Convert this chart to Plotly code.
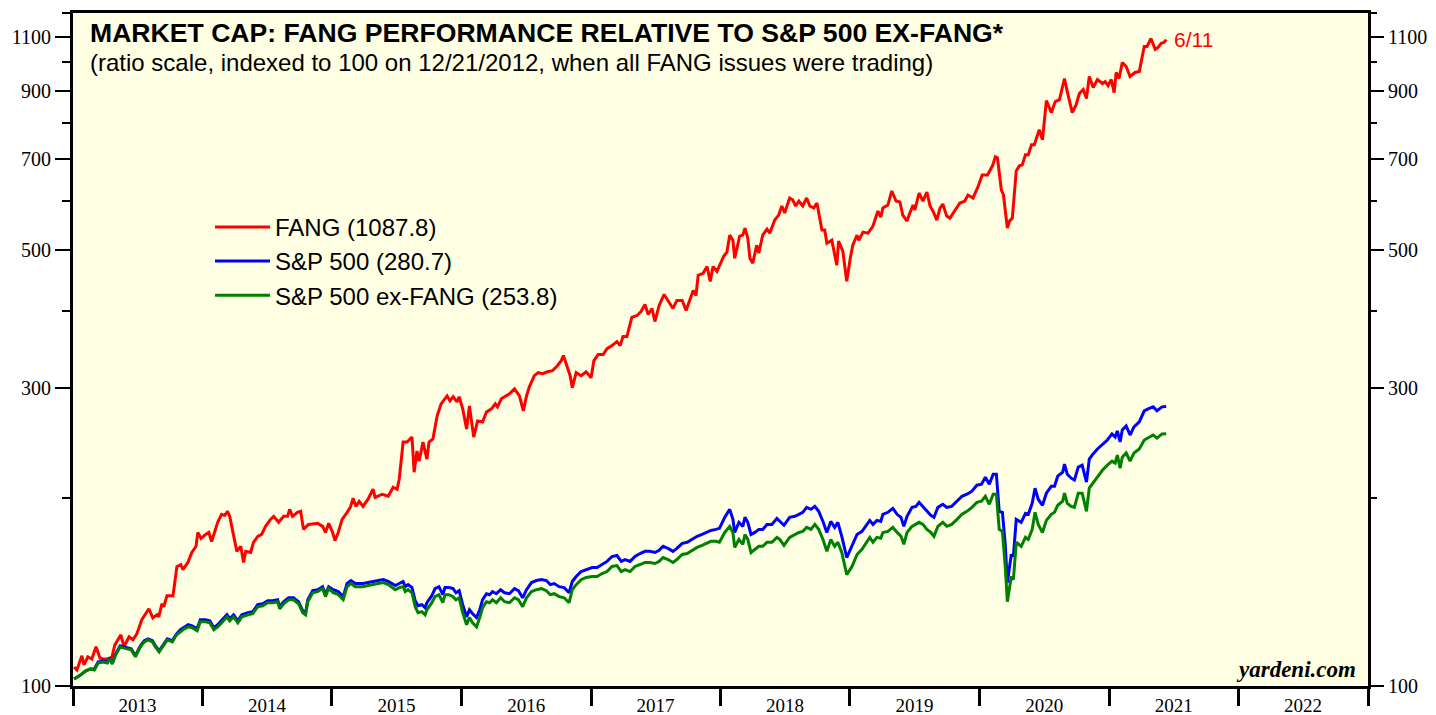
import math
import plotly.graph_objects as go

# ---------------- data ----------------
red_dates = [
"2013-01-04","2013-01-12","2013-01-26","2013-02-01","2013-02-12","2013-02-23","2013-03-07","2013-03-18","2013-03-26","2013-04-10",
"2013-04-21","2013-04-29","2013-05-16","2013-05-25","2013-06-08","2013-06-19","2013-06-30","2013-07-14","2013-08-03","2013-08-14",
"2013-08-26","2013-08-31","2013-09-09","2013-09-14","2013-09-23","2013-10-10","2013-10-21","2013-11-01","2013-11-07","2013-11-21",
"2013-12-02","2013-12-14","2013-12-19","2013-12-28","2014-01-10","2014-01-19","2014-01-27","2014-02-13","2014-02-24","2014-03-05",
"2014-03-13","2014-03-19","2014-04-08","2014-04-19","2014-04-27","2014-05-03","2014-05-17","2014-05-25","2014-06-06","2014-06-17",
"2014-06-28","2014-07-12","2014-07-21","2014-08-04","2014-08-18","2014-08-29","2014-09-04","2014-09-12","2014-09-26","2014-10-05",
"2014-10-13","2014-10-27","2014-11-22","2014-12-06","2014-12-14","2014-12-23","2015-01-02","2015-01-10","2015-01-19","2015-01-30",
"2015-02-13","2015-02-22","2015-03-02","2015-03-10","2015-03-19","2015-03-30","2015-04-13","2015-04-27","2015-05-03","2015-05-23",
"2015-06-09","2015-06-23","2015-07-04","2015-07-10","2015-07-21","2015-08-01","2015-08-15","2015-08-21","2015-08-29","2015-09-04",
"2015-09-15","2015-09-26","2015-10-02","2015-10-13","2015-10-25","2015-11-05","2015-11-22","2015-11-30","2015-12-09","2015-12-20",
"2015-12-26","2016-01-05","2016-01-16","2016-01-24","2016-02-05","2016-02-16","2016-03-01","2016-03-12","2016-03-26","2016-04-06",
"2016-04-12","2016-04-23","2016-05-02","2016-05-16","2016-05-30","2016-06-13","2016-06-24","2016-07-03","2016-07-11","2016-07-25",
"2016-08-05","2016-08-17","2016-08-31","2016-09-14","2016-09-28","2016-10-09","2016-10-15","2016-10-23","2016-11-03","2016-11-09",
"2016-11-20","2016-12-04","2016-12-18","2017-01-01","2017-01-09","2017-01-21","2017-02-04","2017-02-15","2017-03-01","2017-03-15",
"2017-03-24","2017-04-01","2017-04-12","2017-04-26","2017-05-11","2017-05-22","2017-06-02","2017-06-11","2017-06-22","2017-06-30",
"2017-07-12","2017-07-26","2017-08-06","2017-08-20","2017-08-31","2017-09-15","2017-09-26","2017-10-04","2017-10-16","2017-10-24",
"2017-10-30","2017-11-13","2017-11-24","2017-12-03","2017-12-11","2017-12-22","2018-01-10","2018-01-19","2018-01-27","2018-02-05",
"2018-02-10","2018-02-24","2018-03-05","2018-03-11","2018-03-19","2018-03-25","2018-04-02","2018-04-13","2018-04-19","2018-04-30",
"2018-05-12","2018-05-20","2018-06-03","2018-06-14","2018-06-23","2018-07-01","2018-07-15","2018-07-24","2018-08-01","2018-08-10",
"2018-08-21","2018-09-01","2018-09-10","2018-09-21","2018-09-30","2018-10-14","2018-10-22","2018-10-28","2018-11-11","2018-11-25",
"2018-11-30","2018-12-12","2018-12-23","2019-01-02","2019-01-09","2019-01-21","2019-01-26","2019-02-07","2019-02-21","2019-03-07",
"2019-03-21","2019-03-29","2019-04-04","2019-04-18","2019-04-29","2019-05-11","2019-05-22","2019-05-30","2019-06-11","2019-06-19",
"2019-06-28","2019-07-03","2019-07-15","2019-07-26","2019-08-06","2019-08-15","2019-08-23","2019-09-03","2019-09-12","2019-09-20",
"2019-10-01","2019-10-10","2019-10-24","2019-11-07","2019-11-21","2019-11-30","2019-12-14","2019-12-28","2020-01-09","2020-01-24",
"2020-02-07","2020-02-15","2020-02-21","2020-03-03","2020-03-09","2020-03-14","2020-03-20","2020-03-26","2020-04-03","2020-04-14",
"2020-04-23","2020-05-01","2020-05-10","2020-05-18","2020-05-27","2020-06-04","2020-06-13","2020-06-18","2020-06-27","2020-07-08",
"2020-07-22","2020-08-02","2020-08-14","2020-08-28","2020-09-05","2020-09-19","2020-09-30","2020-10-09","2020-10-20","2020-10-29",
"2020-11-06","2020-11-17","2020-11-29","2020-12-13","2020-12-21","2020-12-29","2021-01-07","2021-01-15","2021-01-21","2021-01-29",
"2021-02-07","2021-02-18","2021-03-01","2021-03-15","2021-03-27","2021-04-10","2021-04-18","2021-04-29","2021-05-11","2021-05-19",
"2021-05-28","2021-06-05","2021-06-11"]
fang = [
107.3,106.1,111.8,108.1,111.4,110.5,115.6,110.9,110.5,110.5,
111.4,116.4,120.8,115.6,119.9,118.6,121.2,127.7,133.0,128.6,
130.1,129.1,135.5,134.0,139.6,139.6,155.4,156.6,153.7,157.8,
163.7,167.5,176.3,172.4,175.0,176.3,170.5,183.0,188.5,187.8,
190.6,187.1,164.4,167.5,157.8,164.4,163.7,169.9,173.7,175.0,
180.3,185.0,187.1,183.0,187.1,187.1,192.0,187.1,189.9,190.6,
178.3,181.6,182.3,180.3,176.3,182.3,177.0,171.1,176.3,185.0,
189.9,193.4,200.0,194.1,197.8,194.1,199.3,206.8,200.7,203.0,
201.5,208.3,206.8,214.6,246.2,246.2,250.8,220.2,238.1,229.4,
246.2,231.1,246.2,248.9,271.1,283.4,291.9,286.6,291.0,285.5,
291.0,278.2,258.3,281.3,250.7,266.1,265.1,275.1,278.2,283.4,
280.3,288.7,290.9,294.1,299.6,291.9,276.2,291.9,301.8,314.5,
318.0,316.8,319.1,320.3,326.3,332.4,338.7,328.7,314.5,300.7,
318.0,314.5,319.1,312.1,332.4,340.0,340.0,347.5,351.4,356.7,
351.4,363.4,363.4,389.9,392.8,398.7,409.1,394.2,403.1,384.1,
407.6,424.5,415.2,403.1,415.2,415.2,400.1,413.6,430.9,422.9,
455.5,458.9,470.7,445.5,470.7,462.3,488.8,496.1,528.4,518.6,
485.2,526.5,528.4,542.3,522.5,485.2,476.3,509.1,494.3,528.4,
540.3,532.3,558.6,569.0,588.4,573.3,606.1,601.6,588.4,599.3,
588.4,606.1,588.4,584.0,594.9,538.3,538.3,512.9,518.6,472.8,
516.7,498.0,445.5,485.2,509.1,528.4,518.6,534.3,532.3,546.4,
577.6,564.8,584.0,590.5,622.0,599.3,597.1,569.0,556.5,573.3,
590.5,579.7,617.4,599.3,619.7,588.4,577.6,558.6,584.0,592.7,
566.9,562.7,579.7,594.9,599.3,612.8,606.1,631.3,660.0,660.0,
682.5,705.6,703.0,624.3,612.8,584.0,542.3,556.5,562.7,669.9,
682.5,685.0,710.9,710.9,737.7,737.7,765.5,779.9,751.5,868.4,
830.6,865.2,871.6,942.2,897.8,830.6,855.6,891.2,904.5,874.9,
949.2,911.2,938.7,924.9,931.7,918.0,938.7,894.5,963.4,942.2,
999.7,985.0,949.2,963.4,967.0,1060.8,1060.8,1092.0,1049.0,1056.9,
1072.7,1076.7,1087.8]

sp_dates = [
"2013-01-04","2013-01-22","2013-02-05","2013-02-19","2013-03-02","2013-03-13","2013-03-27","2013-04-08","2013-04-13","2013-04-22",
"2013-04-30","2013-05-14","2013-05-23","2013-06-03","2013-06-14","2013-06-26","2013-07-10","2013-07-21","2013-08-01","2013-08-13",
"2013-08-21","2013-09-01","2013-09-13","2013-09-24","2013-10-08","2013-10-20","2013-10-31","2013-11-11","2013-11-22","2013-12-03",
"2013-12-17","2013-12-26","2014-01-10","2014-01-22","2014-02-02","2014-02-13","2014-02-27","2014-03-11","2014-03-19","2014-03-30",
"2014-04-11","2014-04-22","2014-05-09","2014-05-23","2014-06-06","2014-06-20","2014-07-04","2014-07-18","2014-08-01","2014-08-07",
"2014-08-18","2014-09-01","2014-09-15","2014-09-29","2014-10-11","2014-10-19","2014-10-25","2014-11-08","2014-11-22","2014-12-06",
"2014-12-14","2014-12-23","2015-01-05","2015-01-19","2015-02-02","2015-02-13","2015-02-24","2015-03-08","2015-03-19","2015-03-30",
"2015-04-13","2015-04-27","2015-05-12","2015-05-26","2015-06-09","2015-06-29","2015-07-10","2015-07-21","2015-07-27","2015-08-04",
"2015-08-15","2015-08-24","2015-09-01","2015-09-12","2015-09-21","2015-09-26","2015-10-10","2015-10-19","2015-10-30","2015-11-10",
"2015-11-16","2015-11-27","2015-12-09","2015-12-17","2015-12-26","2016-01-05","2016-01-16","2016-01-24","2016-02-02","2016-02-13",
"2016-02-22","2016-03-01","2016-03-12","2016-03-21","2016-03-29","2016-04-09","2016-04-21","2016-05-02","2016-05-16","2016-05-30",
"2016-06-10","2016-06-22","2016-07-03","2016-07-17","2016-07-31","2016-08-14","2016-08-28","2016-09-08","2016-09-19","2016-10-03",
"2016-10-17","2016-10-31","2016-11-09","2016-11-20","2016-12-04","2016-12-18","2017-01-04","2017-01-18","2017-02-01","2017-02-15",
"2017-03-01","2017-03-15","2017-03-27","2017-04-07","2017-04-21","2017-05-05","2017-05-19","2017-06-02","2017-06-16","2017-06-30",
"2017-07-12","2017-07-23","2017-08-06","2017-08-20","2017-08-31","2017-09-15","2017-09-29","2017-10-13","2017-10-27","2017-11-10",
"2017-11-24","2017-12-05","2017-12-19","2017-12-29","2018-01-13","2018-01-27","2018-02-05","2018-02-10","2018-02-22","2018-03-05",
"2018-03-11","2018-03-19","2018-03-28","2018-04-08","2018-04-19","2018-04-30","2018-05-12","2018-05-26","2018-06-09","2018-06-17",
"2018-06-29","2018-07-15","2018-07-30","2018-08-10","2018-08-21","2018-09-01","2018-09-13","2018-09-24","2018-10-05","2018-10-17",
"2018-10-28","2018-11-08","2018-11-19","2018-11-28","2018-12-09","2018-12-23","2019-01-07","2019-01-21","2019-02-04","2019-02-18",
"2019-02-26","2019-03-07","2019-03-18","2019-03-29","2019-04-04","2019-04-18","2019-05-02","2019-05-14","2019-05-25","2019-06-02",
"2019-06-11","2019-06-25","2019-07-06","2019-07-15","2019-07-26","2019-08-06","2019-08-17","2019-08-26","2019-09-06","2019-09-20",
"2019-10-01","2019-10-15","2019-10-30","2019-11-13","2019-11-27","2019-12-11","2019-12-25","2020-01-07","2020-01-18","2020-01-29",
"2020-02-09","2020-02-18","2020-02-26","2020-03-06","2020-03-14","2020-03-20","2020-03-31","2020-04-06","2020-04-14","2020-04-28",
"2020-05-10","2020-05-18","2020-05-29","2020-06-06","2020-06-15","2020-06-27","2020-07-08","2020-07-22","2020-07-31","2020-08-09",
"2020-08-23","2020-08-28","2020-09-05","2020-09-16","2020-09-25","2020-10-06","2020-10-17","2020-10-29","2020-11-06","2020-11-14",
"2020-11-29","2020-12-13","2020-12-27","2021-01-09","2021-01-18","2021-01-24","2021-02-01","2021-02-07","2021-02-18","2021-03-01",
"2021-03-12","2021-03-27","2021-04-10","2021-04-21","2021-05-05","2021-05-16","2021-05-30","2021-06-11"]
sp500 = [
102.6,104.1,105.7,106.5,106.5,109.3,109.7,109.3,110.9,108.9,
112.2,116.0,115.6,115.1,114.7,111.8,116.0,118.2,119.0,118.2,
116.0,113.9,116.8,119.0,118.2,121.2,123.1,124.4,125.4,124.9,
123.5,127.7,127.7,127.2,124.0,125.4,127.7,130.1,128.2,130.1,
127.2,130.1,131.1,131.6,135.0,135.5,137.0,137.0,137.5,134.0,
136.5,138.5,138.5,136.5,132.0,131.1,137.5,142.2,142.7,144.3,
140.1,144.3,142.7,141.7,139.1,146.0,147.6,146.0,146.0,146.0,
146.5,147.1,147.6,148.1,147.1,144.9,146.0,147.1,144.3,145.4,
143.8,137.0,134.5,135.0,133.5,136.0,139.6,143.3,144.3,140.1,
143.8,143.8,143.3,141.1,142.2,135.0,129.1,132.5,130.6,128.7,
132.5,137.5,140.6,140.1,141.7,140.6,142.7,141.1,140.6,143.3,
142.2,138.5,142.7,146.5,147.6,148.1,147.6,145.4,146.0,144.3,
143.8,141.1,147.1,149.8,152.6,153.7,154.9,154.9,156.6,158.4,
161.3,161.9,158.4,159.5,158.4,161.3,163.1,164.4,164.4,163.7,
165.0,167.5,166.2,164.4,166.2,169.3,170.0,171.8,173.8,175.0,
176.3,177.6,178.3,179.0,186.4,192.0,185.0,176.3,183.0,180.3,
186.4,183.0,175.0,176.3,178.3,178.3,181.6,181.6,185.7,183.6,
181.0,186.4,187.1,188.5,189.9,193.4,192.0,194.1,190.6,183.6,
176.3,183.6,179.6,183.0,173.8,160.7,167.5,175.0,177.0,181.6,
184.3,181.6,184.3,183.6,188.5,189.9,192.7,188.5,186.4,180.3,
187.1,193.4,194.1,197.0,194.1,190.6,187.8,186.4,193.4,195.6,
193.4,194.1,197.8,201.5,203.0,205.3,209.9,210.7,216.2,210.7,
218.6,218.6,190.6,189.9,168.7,146.5,162.5,161.3,185.0,183.0,
189.2,188.5,196.3,207.6,199.3,194.9,203.8,209.1,209.1,217.0,
220.2,226.9,218.6,215.4,213.9,224.4,226.0,212.3,231.1,234.6,
239.9,243.5,248.0,253.6,250.7,256.4,246.2,257.3,261.2,252.6,
260.3,265.1,276.2,278.2,280.3,276.2,280.3,280.7]
sp500_ex_fang = [
102.6,104.1,105.7,106.5,106.1,108.9,109.3,108.9,110.5,108.5,
111.8,115.6,115.1,114.7,114.3,111.4,115.6,117.7,118.6,117.7,
115.6,113.4,116.4,118.6,117.7,120.8,122.1,123.5,124.4,124.0,
122.6,126.8,126.8,126.3,123.1,124.4,126.8,129.1,127.2,129.1,
126.3,129.1,130.1,130.6,134.0,134.5,136.0,136.0,136.5,133.0,
135.5,137.5,137.5,135.5,131.1,130.1,136.5,141.1,141.7,143.3,
139.1,143.3,141.1,140.1,137.5,144.3,146.0,144.3,144.3,144.3,
144.9,145.4,146.0,146.5,145.4,142.7,143.8,144.3,141.7,142.7,
141.1,134.0,131.1,131.6,130.1,132.5,136.0,139.1,140.1,136.0,
140.1,140.1,139.1,137.5,138.5,131.1,125.4,128.7,126.3,124.4,
128.7,133.5,136.5,136.0,137.5,136.0,138.5,136.5,136.0,138.5,
137.5,134.0,138.5,141.7,142.7,143.3,142.2,140.1,140.6,139.1,
138.5,136.0,142.7,145.4,148.1,149.3,149.8,149.8,151.5,152.6,
155.5,156.0,152.6,153.7,152.6,155.5,156.6,157.8,157.8,157.2,
158.4,160.7,159.5,157.8,159.5,162.5,163.1,165.0,166.8,168.1,
169.3,170.6,170.6,170.0,176.3,180.3,176.3,166.8,171.8,168.7,
175.0,171.8,163.7,165.6,167.5,167.5,170.0,170.0,173.1,171.8,
168.1,173.1,175.0,176.3,177.0,179.6,178.3,181.6,178.3,171.8,
164.4,171.8,167.5,170.0,163.7,150.9,155.5,162.5,165.6,170.0,
173.1,170.0,173.1,172.5,176.3,177.0,179.6,176.3,173.8,168.7,
176.3,180.3,181.6,183.0,181.6,178.3,176.3,173.8,180.3,183.0,
180.3,181.6,185.0,188.5,190.6,193.4,197.0,197.8,201.5,195.6,
203.0,203.0,178.3,177.0,155.5,136.5,149.8,148.1,170.0,167.5,
173.1,171.8,178.3,189.9,181.6,176.3,184.3,188.5,189.9,194.9,
197.8,203.8,196.3,194.1,193.4,203.8,203.8,190.6,207.6,210.7,
217.0,221.8,226.0,229.4,227.7,234.6,223.5,232.8,236.4,229.4,
236.4,239.9,248.0,249.8,252.6,249.8,253.6,253.8]

year_labels = ["2013","2014","2015","2016","2017","2018","2019","2020","2021","2022"]
y_labeled = [100, 300, 500, 700, 900, 1100]
y_minor = [200, 400, 600, 800, 1000, 1200]

# ---------------- figure ----------------
SERIF = "Liberation Serif, Times New Roman, serif"
SANS = "Liberation Sans, Arial, sans-serif"

fig = go.Figure()
fig.add_trace(go.Scatter(x=red_dates, y=fang, mode="lines", name=f"FANG ({fang[-1]:.1f})",
                         line=dict(color="#FF0000", width=3), legendgroup="a"))
fig.add_trace(go.Scatter(x=sp_dates, y=sp500, mode="lines", name=f"S&P 500 ({sp500[-1]:.1f})",
                         line=dict(color="#0000FF", width=3), legendgroup="b"))
# drawn on the right-hand axis (identical range) so that axis is rendered
fig.add_trace(go.Scatter(x=sp_dates, y=sp500_ex_fang, mode="lines", name=f"S&P 500 ex-FANG ({sp500_ex_fang[-1]:.1f})",
                         line=dict(color="#008000", width=3), legendgroup="c", yaxis="y2"))

yr_bounds = [f"{int(y)}-01-01" for y in year_labels] + ["2023-01-01"]
yr_mids = [f"{int(y)}-07-02" for y in year_labels]
yrange = [math.log10(100), math.log10(1200)]

common_y = dict(
    type="log", range=yrange, autorange=False, tickmode="array", tickvals=y_labeled,
    ticktext=[str(v) for v in y_labeled], ticks="outside", ticklen=15, tickwidth=1.5,
    tickcolor="black", showgrid=False, zeroline=False, automargin=False,
    tickfont=dict(family=SERIF, size=20, color="black"),
    minor=dict(tickmode="array", tickvals=y_minor, ticks="outside", ticklen=8,
               tickwidth=1.5, tickcolor="black", showgrid=False),
)

fig.update_layout(
    width=1436, height=715,
    margin=dict(l=73, r=68, t=13, b=29, autoexpand=False),
    paper_bgcolor="white", plot_bgcolor="#FFFFE3",
    showlegend=True,
    legend=dict(x=0.1058, y=0.715, xanchor="left", yanchor="top", itemwidth=55,
                bgcolor="rgba(0,0,0,0)", borderwidth=0, tracegroupgap=0,
                font=dict(family=SANS, size=24, color="black")),
    xaxis=dict(
        type="date", range=["2013-01-01", "2023-01-01"], automargin=False,
        tickmode="array", tickvals=yr_mids, ticktext=year_labels, ticks="",
        ticklabelstandoff=0,
        tickfont=dict(family=SERIF, size=19, color="black"),
        showgrid=False, zeroline=False,
        showline=True, linecolor="black", linewidth=3, mirror=True,
        minor=dict(tickmode="array", tickvals=yr_bounds, ticks="outside", ticklen=17,
                   tickwidth=3, tickcolor="black", showgrid=False),
    ),
    yaxis=dict(**common_y, side="left", showline=True, linecolor="black", linewidth=3, mirror=True),
    yaxis2=dict(**common_y, side="right", overlaying="y", showline=False),
)

fig.add_annotation(xref="paper", yref="paper", x=0.0116, y=0.970, xanchor="left", yanchor="middle",
                   text="<b>MARKET CAP: FANG PERFORMANCE RELATIVE TO S&P 500 EX-FANG*</b>",
                   showarrow=False, font=dict(family=SANS, size=26.6, color="black"))
fig.add_annotation(xref="paper", yref="paper", x=0.0116, y=0.926, xanchor="left", yanchor="middle",
                   text="(ratio scale, indexed to 100 on 12/21/2012, when all FANG issues were trading)",
                   showarrow=False, font=dict(family=SANS, size=24, color="black"))
fig.add_annotation(x=red_dates[-1], y=math.log10(fang[-1]), xanchor="left", yanchor="middle", xshift=6,
                   text="6/11", showarrow=False, font=dict(family=SANS, size=21, color="#FF0000"))
fig.add_annotation(xref="paper", yref="paper", x=0.9923, y=0.024, xanchor="right", yanchor="middle",
                   text="<b><i>yardeni.com</i></b>", showarrow=False,
                   font=dict(family=SERIF, size=23, color="black"))

fig.write_html("out.html", config={"displayModeBar": False},
               post_script="document.body.style.margin='0px';")
